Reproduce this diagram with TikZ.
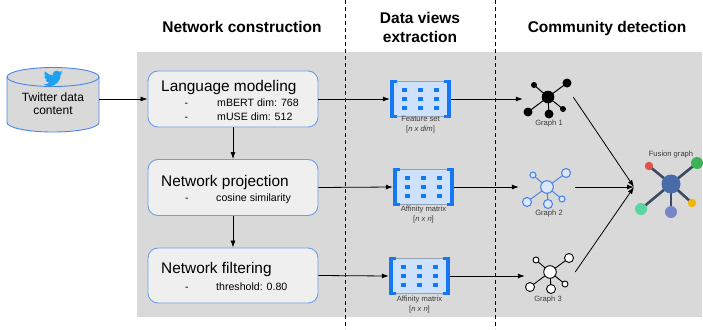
\documentclass[tikz,border=0pt]{standalone}
\usepackage{fontspec}
\setmainfont{Liberation Sans}
\usetikzlibrary{calc,arrows.meta}
\definecolor{bggrey}{RGB}{217,217,217}
\definecolor{boxfill}{RGB}{239,239,239}
\definecolor{boxline}{RGB}{109,158,235}
\definecolor{cylline}{RGB}{74,134,232}
\definecolor{twblue}{RGB}{29,161,242}
\definecolor{iconblue}{RGB}{22,119,242}
\definecolor{iconfill}{RGB}{205,226,250}
\definecolor{iconedge}{RGB}{150,160,175}
\definecolor{gblue}{RGB}{74,134,232}
\definecolor{gbluefill}{RGB}{220,232,250}
\definecolor{labgrey}{RGB}{60,60,60}
\definecolor{fusedge}{RGB}{62,74,96}
\definecolor{fuscen}{RGB}{72,108,168}
\definecolor{fusred}{RGB}{221,85,70}
\definecolor{fusgreen}{RGB}{62,178,86}
\definecolor{fusyellow}{RGB}{240,182,10}
\definecolor{fuspurple}{RGB}{120,134,200}
\definecolor{fusteal}{RGB}{90,214,160}

\newcommand\dataicon[1]{%
  \filldraw[fill=iconfill, draw=iconedge, line width=0.5pt] ($(#1.center)+(-28.5,-17.5)$) rectangle ($(#1.center)+(28.5,17.5)$);
  \foreach \s in {-1,1}{%
    \fill[iconblue] ($(#1.center)+(\s*30.5,-19)$) rectangle ($(#1.center)+(\s*26.8,19)$);
    \fill[iconblue] ($(#1.center)+(\s*30.5,-19)$) rectangle ($(#1.center)+(\s*23.5,-15.8)$);
    \fill[iconblue] ($(#1.center)+(\s*30.5,19)$) rectangle ($(#1.center)+(\s*23.5,15.8)$);
  }%
  \foreach \cx in {-16,0,16}{\foreach \cy in {-9,0,9}{%
    \fill[iconblue] ($(#1.center)+(\cx-2.3,\cy-1.8)$) rectangle ($(#1.center)+(\cx+2.3,\cy+1.8)$);
  }}%
}
\newcommand\smallgraph[3]{%
  \foreach \dx/\dy/\r in {-14/-12/3,19/-14/4.5,-20/15/4.5,1/17/4.5,15/12/3}{%
    \draw[#2] (#1.center) -- ++(\dx,\dy);
    \path[#3] ($(#1.center)+(\dx,\dy)$) circle[radius=\r];
  }%
  \path[#3] (#1.center) circle[radius=6.3];
}

\begin{document}
\begin{tikzpicture}[x=1pt,y=-1pt,
  heading/.style={font=\bfseries\fontsize{15.5}{18}\selectfont, inner sep=0, anchor=base},
  boxtitle/.style={font=\fontsize{15.4}{18}\selectfont, inner sep=0, anchor=base west},
  boxsub/.style={font=\fontsize{10.6}{12}\selectfont, inner sep=0, anchor=base west},
  cyltext/.style={font=\fontsize{12}{14}\selectfont, inner sep=0, anchor=base},
  stepbox/.style={draw=boxline, fill=boxfill, rounded corners=10pt, minimum width=170pt, minimum height=56pt, line width=0.9pt},
  iconbox/.style={minimum width=61pt, minimum height=38pt, inner sep=0},
  smalllab/.style={font=\fontsize{7.6}{9}\selectfont, text=labgrey, inner sep=0, anchor=base},
  arr/.style={-{Latex[length=7pt,width=5pt]}, line width=0.8pt},
  sep/.style={dash pattern=on 4pt off 3pt, line width=0.9pt},
  gbox/.style={minimum width=50pt, minimum height=40pt, inner sep=0},
  fnode/.style={circle, inner sep=0, draw=none}]
\useasboundingbox (0,0) rectangle (703,329);
\fill[bggrey] (137,52) rectangle (702,317);

% separators
\coordinate (s1a) at (345,0); \coordinate (s1b) at (345,329);
\coordinate (s2a) at (495,0); \coordinate (s2b) at (495,329);
\draw[sep] (s1a) -- (s1b);
\draw[sep] (s2a) -- (s2b);

% headings
\node[heading] (h1) at (242,32.5) {Network construction};
\node[heading] (h2a) at (420,24) {Data views};
\node[heading] (h2b) at (420,43) {extraction};
\node[heading] (h3) at (607,32.5) {Community detection};

% cylinder
\path[fill=bggrey, draw=cylline, line width=0.9pt] (7,77) -- (7,122.5)
  arc[start angle=180, end angle=360, x radius=46pt, y radius=9.5pt] -- (99,77)
  arc[start angle=0, end angle=180, x radius=46pt, y radius=9.5pt] -- cycle;
\draw[cylline, line width=0.9pt] (7,77) arc[start angle=180, end angle=360, x radius=46pt, y radius=9.5pt];
\node[minimum width=92pt, minimum height=65pt, inner sep=0] (tw) at (53,99) {};
\begin{scope}[shift={(43.5,70.5)}, scale=0.077]
\fill[twblue] (221.95,51.29) .. controls (222.10,53.46) and (222.10,55.63) .. (222.10,57.82)
 .. controls (222.10,124.55) and (171.30,201.51) .. (78.41,201.51)
 -- (78.41,201.47)
 .. controls (50.97,201.51) and (24.1,193.65) .. (1,178.83)
 .. controls (4.99,179.31) and (9,179.55) .. (13.02,179.56)
 .. controls (35.76,179.58) and (57.85,171.95) .. (75.74,157.90)
 .. controls (54.13,157.49) and (35.18,143.40) .. (28.56,122.83)
 .. controls (36.13,124.29) and (43.93,123.99) .. (51.36,121.96)
 .. controls (27.8,117.2) and (10.85,96.5) .. (10.85,72.46)
 -- (10.85,71.82)
 .. controls (17.87,75.73) and (25.73,77.90) .. (33.77,78.14)
 .. controls (11.58,63.31) and (4.74,33.79) .. (18.14,10.71)
 .. controls (43.78,42.26) and (81.61,61.44) .. (122.22,63.47)
 .. controls (118.15,45.93) and (123.71,27.55) .. (136.83,15.22)
 .. controls (157.17,-3.90) and (189.16,-2.92) .. (208.28,17.41)
 .. controls (219.59,15.18) and (230.43,11.03) .. (240.35,5.15)
 .. controls (236.58,16.84) and (228.69,26.77) .. (218.15,33.08)
 .. controls (228.16,31.90) and (237.94,29.22) .. (247.15,25.13)
 .. controls (242.37,33.29) and (232.78,42.86) .. (221.95,51.29) -- cycle;
\end{scope}
\node[cyltext] (twt1) at (53,101.5) {Twitter data};
\node[cyltext] (twt2) at (53,114.5) {content};

% step boxes
\node[stepbox] (lm) at (233,99) {};
\node[stepbox] (np) at (233,187.5) {};
\node[stepbox, minimum height=55pt] (nf) at (233,275.5) {};

\node[boxtitle] (lmt) at (161,91) {Language modeling};
\node[boxsub] (lmd1) at (184.5,106) {-};
\node[boxsub] (lms1) at (217,106) {mBERT dim: 768};
\node[boxsub] (lmd2) at (184.5,120) {-};
\node[boxsub] (lms2) at (217,120) {mUSE dim: 512};

\node[boxtitle] (npt) at (161,186) {Network projection};
\node[boxsub] (npd) at (185,201) {-};
\node[boxsub] (nps) at (216,201) {cosine similarity};

\node[boxtitle] (nft) at (161,273.5) {Network filtering};
\node[boxsub] (nfd) at (185,290) {-};
\node[boxsub] (nfs) at (216,290) {threshold: 0.80};

\draw[arr] (tw.east) -- (lm.west);
\draw[arr] (lm.south) -- (np.north);
\draw[arr] (np.south) -- (nf.north);

% data view icons
\node[iconbox] (m1) at (420.5,99) {};
\node[iconbox] (m2) at (423.5,187) {};
\node[iconbox] (m3) at (419.5,276) {};
\dataicon{m1}
\dataicon{m2}
\dataicon{m3}
\node[smalllab] (m1l1) at (420.5,121) {Feature set};
\node[smalllab] (m1l2) at (420.5,131) {[\textit{n x dim}]};
\node[smalllab] (m2l1) at (423.5,211) {Affinity matrix};
\node[smalllab] (m2l2) at (423.5,221) {[\textit{n x n}]};
\node[smalllab] (m3l1) at (419.5,301) {Affinity matrix};
\node[smalllab] (m3l2) at (419.5,311) {[\textit{n x n}]};

\draw[arr] (lm.east) -- (m1.west);
\draw[arr] (np.east) -- (m2.west);
\draw[arr] (nf.east) -- (m3.west);

% graphs
\node[gbox] (g1) at (548,97) {};
\node[gbox, minimum width=56pt] (g2) at (547,187) {};
\node[gbox] (g3) at (550,272) {};
\smallgraph{g1}{line width=1pt, black}{fill=black}
\smallgraph{g2}{line width=1pt, gblue}{fill=gbluefill, draw=gblue, line width=1.1pt}
\smallgraph{g3}{line width=0.9pt, black}{fill=white, draw=black, line width=0.9pt}
\node[smalllab] (g1l) at (549,125) {Graph 1};
\node[smalllab] (g2l) at (549,215) {Graph 2};
\node[smalllab] (g3l) at (548,301) {Graph 3};

\draw[arr] (m1.east) -- (m1.east -| g1.west);
\draw[arr] (m2.east) -- (m2.east -| g2.west);
\draw[arr] (m3.east) -- (m3.east -| g3.west);

% fusion graph
\coordinate (fin) at (634,187);
\coordinate (fc) at (671,184);
\coordinate (fr) at (649,166);
\coordinate (fg) at (697,163);
\coordinate (fy) at (692,203);
\coordinate (fp) at (671,212);
\coordinate (ft) at (641,209);
\foreach \c in {fr,fg,fy,fp,ft} \draw[fusedge, line width=2.6pt] (fc) -- (\c);
\node[fnode, fill=fuscen, minimum size=19pt] (fus) at (fc) {};
\node[fnode, fill=fusred, minimum size=8.5pt] (fusr) at (fr) {};
\node[fnode, fill=fusgreen, minimum size=12pt] (fusg) at (fg) {};
\node[fnode, fill=fusyellow, minimum size=8.5pt] (fusy) at (fy) {};
\node[fnode, fill=fuspurple, minimum size=12pt] (fusp) at (fp) {};
\node[fnode, fill=fusteal, minimum size=12pt] (fust) at (ft) {};
\node[smalllab] (fusl) at (671,156) {Fusion graph};

\draw[arr] (g1.east) -- (fin);
\draw[arr] (g2.east) -- (fin);
\draw[arr] (g3.east) -- (fin);
\end{tikzpicture}
\end{document}
